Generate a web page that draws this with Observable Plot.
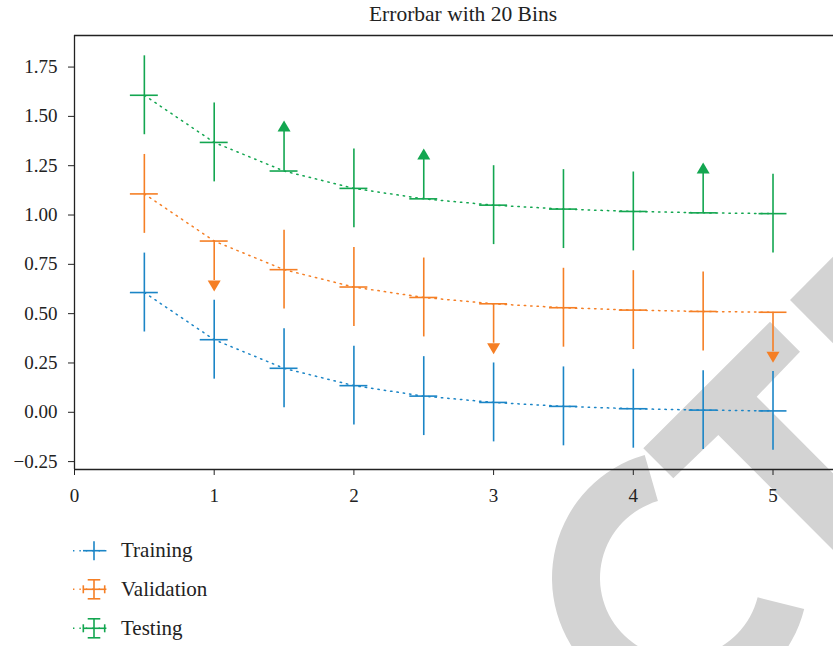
<!DOCTYPE html>
<html>
<head>
<meta charset="utf-8">
<script src="https://cdn.jsdelivr.net/npm/d3@7"></script>
<script src="https://cdn.jsdelivr.net/npm/@observablehq/plot@0.6"></script>
<style>
html, body { margin: 0; padding: 0; background: #fff; }
#wrap { position: relative; width: 833px; height: 646px; overflow: hidden; font-family: "Liberation Serif", serif; }
#wrap > svg { position: absolute; left: 0; top: 0; }
#wrap svg text, #wrap svg g { font-family: "Liberation Serif", serif !important; }
#wrap svg.mainplot text { font-size: 19px !important; fill: #222; }
</style>
</head>
<body>
<div id="wrap"></div>
<script>
// ---- data ----
const titleText = "Errorbar with 20 Bins";
const xValues = [0.5, 1.0, 1.5, 2.0, 2.5, 3.0, 3.5, 4.0, 4.5, 5.0];
const training   = [0.607, 0.368, 0.223, 0.135, 0.082, 0.050, 0.030, 0.018, 0.011, 0.007];
const validation = [1.107, 0.868, 0.723, 0.635, 0.582, 0.550, 0.530, 0.518, 0.511, 0.507];
const testing    = [1.607, 1.368, 1.223, 1.135, 1.082, 1.050, 1.030, 1.018, 1.011, 1.007];
const validationUpperLimits = [0, 1, 0, 0, 0, 1, 0, 0, 0, 1];
const testingLowerLimits    = [0, 0, 1, 0, 1, 0, 0, 0, 1, 0];
const noLimits = [0, 0, 0, 0, 0, 0, 0, 0, 0, 0];
const xErr = 0.1;
const yErr = 0.2;
const seriesNames = ["Training", "Validation", "Testing"];
const seriesColors = ["#1b85c6", "#f57f25", "#13a650"];
const xTicks = [0, 1, 2, 3, 4, 5];
const yTicks = [-0.25, 0, 0.25, 0.5, 0.75, 1.0, 1.25, 1.5, 1.75];
const xDomain = [0, 5.433];
const yDomain = [-0.29, 1.91];

// ---- table ----
const seriesValues = [training, validation, testing];
const seriesUp = [noLimits, validationUpperLimits, noLimits];
const seriesLo = [noLimits, noLimits, testingLowerLimits];
const rows = [];
seriesNames.forEach((name, s) => {
  seriesValues[s].forEach((v, i) => {
    rows.push({series: name, x: xValues[i], y: v, up: !!seriesUp[s][i], lo: !!seriesLo[s][i]});
  });
});

const downArrow = { draw(ctx) { ctx.moveTo(-6.5, 0); ctx.lineTo(6.5, 0); ctx.lineTo(0, 11); ctx.closePath(); } };
const upArrow   = { draw(ctx) { ctx.moveTo(-6.5, 0); ctx.lineTo(6.5, 0); ctx.lineTo(0, -11); ctx.closePath(); } };

const wrap = document.getElementById("wrap");

// ---- watermark (decorative, behind the chart) ----
const wm = d3.create("svg").attr("width", 833).attr("height", 646);
const g = wm.append("g").attr("fill", "#d3d3d3");
g.append("path").attr("d", d3.arc()({innerRadius: 80, outerRadius: 128, startAngle: 104 * Math.PI / 180, endAngle: 344 * Math.PI / 180}))
  .attr("transform", "translate(680,578)");
g.append("polygon").attr("points", "643.3,448.3 770,321.7 800,351.7 756.7,396.7 833,473.3 833,550 718.3,435 673.3,478.3");
g.append("polygon").attr("points", "790,300 833,256.7 833,343.3");
wrap.appendChild(wm.node());

// ---- chart ----
const chart = Plot.plot({
  width: 833,
  height: 520,
  marginTop: 35,
  marginBottom: 51,
  marginLeft: 74,
  marginRight: 0,
  style: {fontFamily: '"Liberation Serif", serif', fontSize: "19px", color: "#222", background: "transparent", overflow: "visible"},
  x: {domain: xDomain, ticks: xTicks, tickSize: 6, tickPadding: 13, tickFormat: d3.format("d"), label: null},
  y: {domain: yDomain, ticks: yTicks, tickSize: 6, tickPadding: 11, tickFormat: d3.format(".2f"), label: null},
  color: {domain: seriesNames, range: seriesColors},
  marks: [
    Plot.ruleX([xDomain[0]], {stroke: "#222", strokeWidth: 1.3}),
    Plot.ruleY([yDomain[0]], {stroke: "#222", strokeWidth: 1.3}),
    Plot.ruleY([yDomain[1]], {stroke: "#222", strokeWidth: 1.3}),
    Plot.line(rows, {x: "x", y: "y", z: "series", stroke: "series", strokeWidth: 1.5, strokeDasharray: "1.4,5"}),
    Plot.ruleX(rows, {
      x: "x",
      y1: d => d.lo ? d.y : d.y - yErr,
      y2: d => d.up ? d.y : d.y + yErr,
      stroke: "series", strokeWidth: 1.6
    }),
    Plot.ruleY(rows, {y: "y", x1: d => d.x - xErr, x2: d => d.x + xErr, stroke: "series", strokeWidth: 1.6}),
    Plot.dot(rows.filter(d => d.up), {x: "x", y: d => d.y - yErr, symbol: downArrow, fill: "series", stroke: null, r: 5}),
    Plot.dot(rows.filter(d => d.lo), {x: "x", y: d => d.y + yErr, symbol: upArrow, fill: "series", stroke: null, r: 5})
  ]
});
chart.classList.add("mainplot");
wrap.appendChild(chart);

// ---- title + legend overlay ----
const ov = d3.create("svg").attr("width", 833).attr("height", 646).style("pointer-events", "none");
ov.append("text").attr("x", 463).attr("y", 21).attr("text-anchor", "middle")
  .attr("font-family", '"Liberation Serif", serif').attr("font-size", 21.5).attr("fill", "#222").text(titleText);
const legendY = [550.7, 589.3, 628.3];
seriesNames.forEach((name, i) => {
  const cy = legendY[i], c = seriesColors[i];
  const lg = ov.append("g").attr("stroke", c).attr("stroke-width", 1.6).attr("fill", "none");
  lg.append("line").attr("x1", 73).attr("x2", 107).attr("y1", cy).attr("y2", cy).attr("stroke-dasharray", "1.4,5");
  lg.append("line").attr("x1", 83).attr("x2", 105).attr("y1", cy).attr("y2", cy);
  lg.append("line").attr("x1", 94).attr("x2", 94).attr("y1", cy - 9.5).attr("y2", cy + 9.5);
  if (i > 0) {
    lg.append("line").attr("x1", 83.3).attr("x2", 83.3).attr("y1", cy - 4).attr("y2", cy + 4);
    lg.append("line").attr("x1", 104.7).attr("x2", 104.7).attr("y1", cy - 4).attr("y2", cy + 4);
    lg.append("line").attr("x1", 87.7).attr("x2", 100.3).attr("y1", cy - 9.5).attr("y2", cy - 9.5);
    lg.append("line").attr("x1", 87.7).attr("x2", 100.3).attr("y1", cy + 9.5).attr("y2", cy + 9.5);
  }
  ov.append("text").attr("x", 121).attr("y", cy + 6.5)
    .attr("font-family", '"Liberation Serif", serif').attr("font-size", 21).attr("fill", "#222").text(name);
});
wrap.appendChild(ov.node());
</script>
</body>
</html>
